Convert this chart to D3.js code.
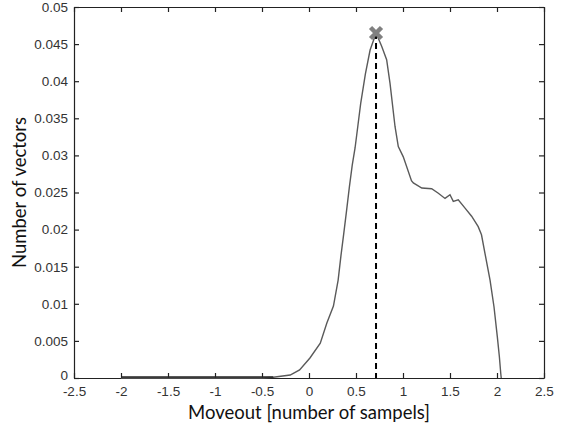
<!DOCTYPE html>
<html>
<head>
<meta charset="utf-8">
<script src="https://cdn.jsdelivr.net/npm/d3@7"></script>
<style>
  html, body { margin: 0; padding: 0; background: #fff; }
  svg { display: block; }
  .tick text { font-family: "Liberation Sans", Arial, sans-serif; font-size: 13.5px; fill: #333; }
  .title { font-family: Lato, "Open Sans", sans-serif; font-size: 18.5px; fill: #111; }
</style>
</head>
<body>
<svg id="chart" width="565" height="432"></svg>
<script>
// Moveout distribution (x: samples, y: fraction of vectors)
const moveout = [-2.0, -1.5, -1.0, -0.5, -0.38, -0.2, -0.1, 0.01, 0.12, 0.19, 0.26, 0.31, 0.34, 0.37, 0.40, 0.43, 0.46, 0.49, 0.52, 0.55, 0.60, 0.65, 0.70, 0.713, 0.773, 0.826, 0.862, 0.915, 0.95, 1.003, 1.09, 1.11, 1.20, 1.305, 1.376, 1.447, 1.50, 1.535, 1.588, 1.66, 1.73, 1.80, 1.835, 1.872, 1.926, 1.968, 2.003, 2.025, 2.04, 2.045];
const vectors = [0, 0, 0, 0, 0.0001, 0.0004, 0.0011, 0.0027, 0.0047, 0.0074, 0.0097, 0.0132, 0.0165, 0.0195, 0.0226, 0.0258, 0.0287, 0.031, 0.034, 0.037, 0.041, 0.0442, 0.046, 0.0465, 0.0447, 0.0429, 0.0397, 0.0339, 0.0312, 0.0298, 0.0266, 0.0263, 0.0256, 0.0255, 0.0249, 0.0242, 0.0247, 0.0238, 0.024, 0.0229, 0.0218, 0.0204, 0.0193, 0.0168, 0.0132, 0.0096, 0.0056, 0.0029, 0.0006, 0];

// Peak marker
const peakX = [0.713];
const peakY = [0.0465];

const xTicks = [-2.5, -2, -1.5, -1, -0.5, 0, 0.5, 1, 1.5, 2, 2.5];
const yTicks = [0, 0.005, 0.01, 0.015, 0.02, 0.025, 0.03, 0.035, 0.04, 0.045, 0.05];

const xTitle = "Moveout [number of sampels]";
const yTitle = "Number of vectors";

const svg = d3.select("#chart");
const margin = { left: 74, top: 7, right: 21, bottom: 54 };
const W = 565, H = 432;
const x = d3.scaleLinear().domain([-2.5, 2.5]).range([margin.left, W - margin.right]);
const y = d3.scaleLinear().domain([0, 0.05]).range([H - margin.bottom, margin.top]);

const fmt = d => d === 0 ? "0" : String(d);
const tickLen = 5;

// Box axes with inward ticks on all four sides
svg.append("g").attr("transform", `translate(0,${y(0)})`)
  .call(d3.axisBottom(x).tickValues(xTicks).tickFormat(fmt).tickSizeInner(-tickLen).tickSizeOuter(0).tickPadding(8));
svg.append("g").attr("transform", `translate(0,${y(0.05)})`)
  .call(d3.axisTop(x).tickValues(xTicks).tickFormat("").tickSizeInner(-tickLen).tickSizeOuter(0));
const yAxis = svg.append("g").attr("transform", `translate(${x(-2.5)},0)`)
  .call(d3.axisLeft(y).tickValues(yTicks).tickFormat(fmt).tickSizeInner(-tickLen).tickSizeOuter(0).tickPadding(6));
svg.append("g").attr("transform", `translate(${x(2.5)},0)`)
  .call(d3.axisRight(y).tickValues(yTicks).tickFormat("").tickSizeInner(-tickLen).tickSizeOuter(0));

// Lift the zero label a little so it clears the x tick labels
yAxis.selectAll(".tick text").filter(d => d === 0).attr("dy", "0.1em");

svg.selectAll(".domain").attr("stroke", "#222").attr("stroke-width", 1.2);
svg.selectAll(".tick line").attr("stroke", "#222").attr("stroke-width", 1.2);

// Distribution curve
const pts = moveout.map((d, i) => [d, vectors[i]]);
svg.append("path")
  .datum(pts)
  .attr("fill", "none")
  .attr("stroke", "#5a5a5a")
  .attr("stroke-width", 1.4)
  .attr("d", d3.line().x(d => x(d[0])).y(d => y(d[1])));

// Flat part sits on the axis and reads darker
svg.append("line")
  .attr("x1", x(-2)).attr("x2", x(-0.38))
  .attr("y1", y(0) - 1).attr("y2", y(0) - 1)
  .attr("stroke", "#222").attr("stroke-width", 1.6);

// Dashed drop line from the peak
svg.append("line")
  .attr("x1", x(peakX[0])).attr("x2", x(peakX[0]))
  .attr("y1", y(peakY[0])).attr("y2", y(0))
  .attr("stroke", "#000").attr("stroke-width", 2)
  .attr("stroke-dasharray", "6,4");

// Peak cross marker
const s = 5.5;
const mx = x(peakX[0]), my = y(peakY[0]);
svg.append("path")
  .attr("d", `M${mx - s},${my - s}L${mx + s},${my + s}M${mx - s},${my + s}L${mx + s},${my - s}`)
  .attr("stroke", "#808080").attr("stroke-width", 4.5).attr("fill", "none");

// Axis titles
svg.append("text").attr("class", "title")
  .attr("x", (x(-2.5) + x(2.5)) / 2).attr("y", 419)
  .attr("text-anchor", "middle").text(xTitle);
svg.append("text").attr("class", "title")
  .attr("transform", `translate(26,${(y(0) + y(0.05)) / 2}) rotate(-90)`)
  .attr("text-anchor", "middle").text(yTitle);
</script>
</body>
</html>
